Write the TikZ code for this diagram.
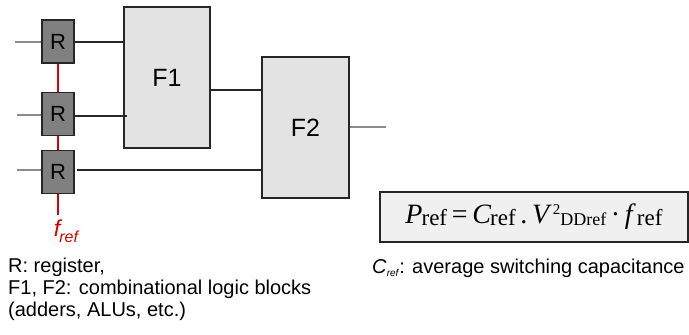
\documentclass[tikz,border=0pt]{standalone}
\usepackage{fontspec}
\setmainfont{Liberation Sans}
\newfontfamily\timesf{Liberation Serif}
\begin{document}
\begin{tikzpicture}[x=1pt,y=-1pt,
  reg/.style={draw=black!85,line width=1.5pt,fill=black!50,minimum width=32pt,minimum height=43pt,inner sep=0pt,font=\fontsize{22}{22}\selectfont},
  fblk/.style={draw=black!85,line width=1.5pt,fill=black!11,inner sep=0pt,font=\fontsize{25}{25}\selectfont},
  wire/.style={line width=1.1pt,black!85},
  inw/.style={line width=1.8pt,black!45},
  clk/.style={line width=1.2pt,red!85!black}]
\useasboundingbox (0,0) rectangle (689,335);
\node[reg] (r1) at (58,41.5) {R};
\node[reg] (r2) at (58,114) {R};
\node[reg] (r3) at (58,172) {R};
\node[fblk,minimum width=86pt,minimum height=141pt] (f1) at (167,77.5) {F1};
\node[fblk,minimum width=87pt,minimum height=141pt] (f2) at (305.5,127.5) {F2};
% inputs
\coordinate (i1) at (15,42);
\coordinate (i2) at (17,115);
\coordinate (i3) at (17,170);
\draw[inw] (i1) -- (r1.west|-i1);
\draw[inw] (i2) -- (r2.west|-i2);
\draw[inw] (i3) -- (r3.west|-i3);
% outputs
\draw[wire] (r1.east|-i1) -- (f1.west|-i1);
\coordinate (e2) at (127,116);
\draw[wire] (r2.east|-e2) -- (e2);
\draw[wire] (77,170) -- (f2.west|-i3);
\coordinate (m) at (262,90);
\draw[wire] (f1.east|-m) -- (m);
\coordinate (o) at (386,127);
\draw[inw] (f2.east|-o) -- (o);
% clock
\draw[clk] (r1.south) -- (r2.north);
\draw[clk] (r2.south) -- (r3.north);
\coordinate (ck) at (58,215);
\draw[clk] (r3.south) -- (ck);
\node[red!85!black,font=\fontsize{23}{23}\selectfont\itshape,anchor=north,inner sep=0pt] (fr) at (66,220) {f\kern-1pt\raisebox{-6pt}{\fontsize{16}{16}\selectfont ref}};
% legend
\node[anchor=north west,align=left,font=\fontsize{20}{22}\selectfont,inner sep=0pt] (leg) at (8,258) {R: register,\\F1, F2: combinational logic blocks\\(adders, ALUs, etc.)};
% formula
\node[draw=black!85,line width=1.6pt,fill=black!6,minimum width=308pt,minimum height=50pt,inner sep=0pt,font=\timesf\fontsize{28}{28}\selectfont] (eq) at (534,217) {%
\textit{P}\kern-1pt\raisebox{-2pt}{\fontsize{23}{23}\selectfont ref}\,=\,\textit{C}\kern-1pt\raisebox{-2pt}{\fontsize{23}{23}\selectfont ref}\,.\,\textit{V}\kern1pt\raisebox{9pt}{\fontsize{15}{15}\selectfont 2}\raisebox{-2pt}{\fontsize{18}{18}\selectfont DDref}\,·\,\textit{f}\kern1pt\raisebox{-2pt}{\fontsize{23}{23}\selectfont ref}};
\node[anchor=west,font=\fontsize{20}{20}\selectfont,inner sep=0pt] (cr) at (372,268) {\textit{C}\raisebox{-3pt}{\fontsize{10}{10}\selectfont\textit{ref}}: average switching capacitance};
\end{tikzpicture}
\end{document}
